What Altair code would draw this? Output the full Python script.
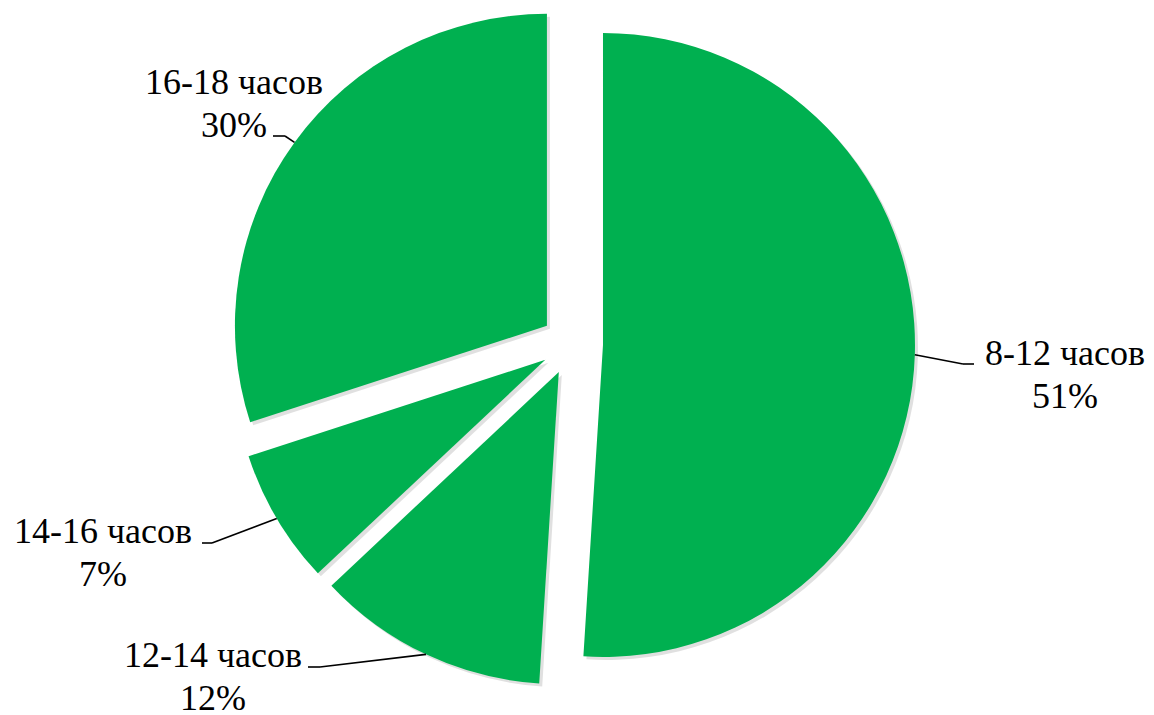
import altair as alt
import pandas as pd

# ---- data ----
categories = ["8-12 часов", "12-14 часов", "14-16 часов", "16-18 часов"]
shares = [51, 12, 7, 30]
pct_labels = ["51%", "12%", "7%", "30%"]

# ---- layout (pixels) ----
CX, CY, R, EXPLODE = 572, 344, 312, 31
GREEN = "#00B050"
FONT = "Liberation Serif"
label_dx = [493, -359, -469, -338]   # first-line baseline anchor relative to pie centre
label_dy = [21, 323, 199, -250]
elbow_dx = [391, -252, -360, -287]   # leader-line elbow relative to pie centre
elbow_dy = [20, 323, 199, -208]
end_dx = [402, -264, -370, -299]     # leader-line end (next to text)
end_dy = [20, 323, 199, -208]

df = pd.DataFrame({
    "cat": categories,
    "share": shares,
    "pct": pct_labels,
    "order": list(range(len(categories))),
    "ldx": label_dx, "ldy": label_dy,
    "edx": elbow_dx, "edy": elbow_dy,
    "ndx": end_dx, "ndy": end_dy,
})

base = (
    alt.Chart(df)
    .transform_window(cum="sum(share)", sort=[{"field": "order"}], frame=[None, 0])
    .transform_joinaggregate(total="sum(share)")
    .transform_calculate(
        t0=f"(datum.cum - datum.share) / datum.total * 2 * PI",
        t1=f"datum.cum / datum.total * 2 * PI",
    )
    .transform_calculate(mid="(datum.t0 + datum.t1) / 2")
    .transform_calculate(
        cx=f"{CX} + {EXPLODE} * sin(datum.mid)",
        cy=f"{CY} - {EXPLODE} * cos(datum.mid)",
    )
    .transform_calculate(
        sx=f"datum.cx + {R} * sin(datum.mid)",
        sy=f"datum.cy - {R} * cos(datum.mid)",
        ex=f"{CX} + datum.edx",
        ey=f"{CY} + datum.edy",
        nx=f"{CX} + datum.ndx",
        ny=f"{CY} + datum.ndy",
        lx=f"{CX} + datum.ldx",
        ly=f"{CY} + datum.ldy",
        ly2=f"{CY} + datum.ldy + 43",
        shx="datum.cx + 3",
        shy="datum.cy + 3",
    )
)

shadow = base.mark_arc(outerRadius=R, color="#000000", opacity=0.12).encode(
    x=alt.X("shx:Q", scale=None, axis=None),
    y=alt.Y("shy:Q", scale=None, axis=None),
    theta=alt.Theta("t0:Q", scale=None, stack=None),
    theta2="t1:Q",
)

arcs = base.mark_arc(outerRadius=R, color=GREEN).encode(
    x=alt.X("cx:Q", scale=None, axis=None),
    y=alt.Y("cy:Q", scale=None, axis=None),
    theta=alt.Theta("t0:Q", scale=None, stack=None),
    theta2="t1:Q",
)

lead1 = base.mark_rule(color="#000000", strokeWidth=1.6).encode(
    x=alt.X("sx:Q", scale=None, axis=None),
    y=alt.Y("sy:Q", scale=None, axis=None),
    x2="ex:Q",
    y2="ey:Q",
)
lead2 = base.mark_rule(color="#000000", strokeWidth=1.6).encode(
    x=alt.X("ex:Q", scale=None, axis=None),
    y=alt.Y("ey:Q", scale=None, axis=None),
    x2="nx:Q",
    y2="ny:Q",
)

text1 = base.mark_text(font=FONT, fontSize=36, align="center", baseline="alphabetic", color="#000000").encode(
    x=alt.X("lx:Q", scale=None, axis=None),
    y=alt.Y("ly:Q", scale=None, axis=None),
    text="cat:N",
)
text2 = base.mark_text(font=FONT, fontSize=36, align="center", baseline="alphabetic", color="#000000").encode(
    x=alt.X("lx:Q", scale=None, axis=None),
    y=alt.Y("ly2:Q", scale=None, axis=None),
    text="pct:N",
)

chart = (
    alt.layer(shadow, arcs, lead1, lead2, text1, text2)
    .properties(width=1154, height=715, autosize="none", padding=0, background="#ffffff")
    .configure_view(strokeWidth=0)
)

chart.save("out.html", embed_options={"renderer": "svg", "actions": False})
